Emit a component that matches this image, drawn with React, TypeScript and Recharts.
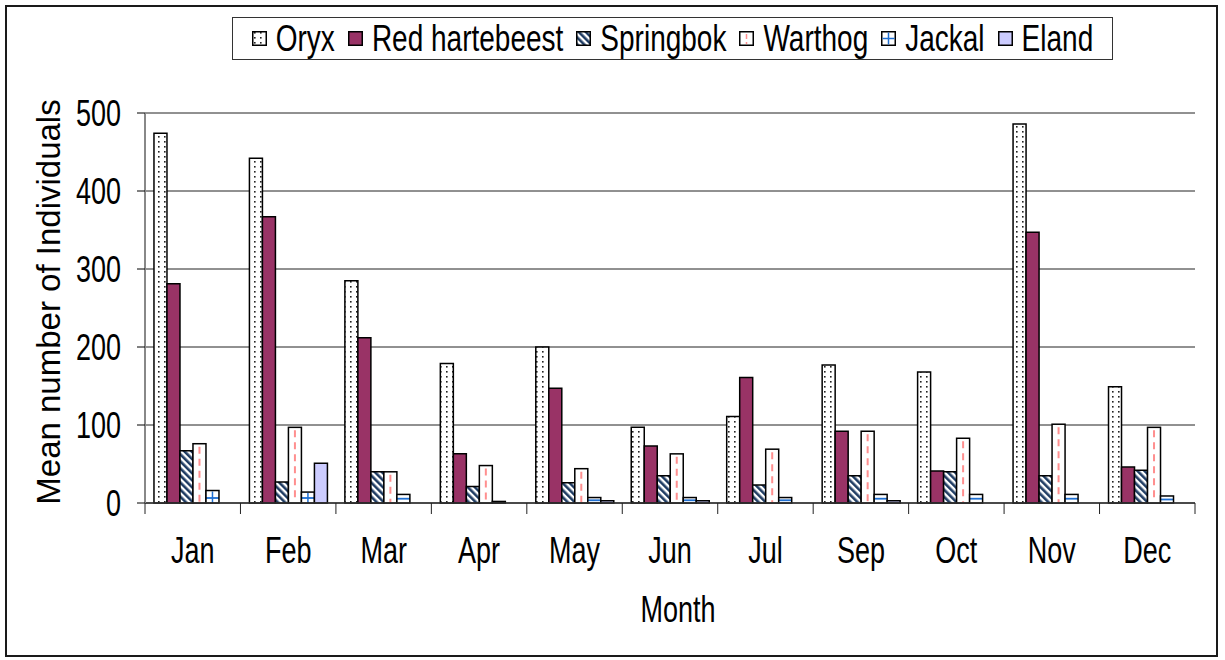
import React from 'react';
import { BarChart, Bar, XAxis, YAxis, CartesianGrid } from 'recharts';

const months = ['Jan', 'Feb', 'Mar', 'Apr', 'May', 'Jun', 'Jul', 'Sep', 'Oct', 'Nov', 'Dec'];
const oryx = [474, 442, 285, 179, 200, 97, 111, 177, 168, 486, 149];
const redHartebeest = [281, 367, 212, 63, 147, 73, 161, 92, 41, 347, 46];
const springbok = [67, 27, 40, 21, 26, 35, 23, 35, 40, 35, 42];
const warthog = [76, 97, 40, 48, 44, 63, 69, 92, 83, 101, 97];
const jackal = [16, 14, 11, 2, 7, 7, 7, 11, 11, 11, 9];
const eland = [0, 51, 0, 0, 3, 3, 0, 3, 0, 0, 0];
const yTicks = [0, 100, 200, 300, 400, 500];

const data = months.map((month, i) => ({
  month,
  oryx: oryx[i],
  redHartebeest: redHartebeest[i],
  springbok: springbok[i],
  warthog: warthog[i],
  jackal: jackal[i],
  eland: eland[i],
}));

const FONT = '"Liberation Sans", Arial, Helvetica, sans-serif';
const STRETCH = 1.35;
const W = 1225;
const H = 660;
const PLOT_LEFT = 145;
const PLOT_RIGHT = 1195;
const PLOT_TOP = 113;
const PLOT_BOTTOM = 503;
const band = (PLOT_RIGHT - PLOT_LEFT) / months.length;

const WarthogShape = (props: any) => {
  const { x, y, width, height } = props;
  if (!height || height <= 0) return null;
  const cx = x + width / 2;
  return (
    <g>
      <rect x={x} y={y} width={width} height={height} fill="#fff" stroke="#000" strokeWidth={1.5} />
      <line x1={cx} x2={cx} y1={y + 3} y2={y + height - 1} stroke="#ff8f8f" strokeWidth={2} strokeDasharray="7 5" />
    </g>
  );
};

const JackalShape = (props: any) => {
  const { x, y, width, height } = props;
  if (!height || height <= 0) return null;
  const cx = x + width / 2;
  const hy = height > 9 ? y + height - 5 : y + height / 2;
  return (
    <g>
      <rect x={x} y={y} width={width} height={height} fill="#fff" />
      {height > 3 && <line x1={x} x2={x + width} y1={hy} y2={hy} stroke="#1f6fd1" strokeWidth={1.8} />}
      {height > 9 && <line x1={cx} x2={cx} y1={y + 1} y2={y + height} stroke="#1f6fd1" strokeWidth={1.5} />}
      <rect x={x} y={y} width={width} height={height} fill="none" stroke="#000" strokeWidth={1.5} />
    </g>
  );
};

const XTick = (props: any) => {
  const { x, index, payload } = props;
  const left = x - band / 2;
  const right = x + band / 2;
  return (
    <g>
      <line x1={left} x2={left} y1={PLOT_BOTTOM} y2={PLOT_BOTTOM + 11} stroke="#222" />
      {index === months.length - 1 && (
        <line x1={right} x2={right} y1={PLOT_BOTTOM} y2={PLOT_BOTTOM + 11} stroke="#222" />
      )}
      <text
        transform={`translate(${x},563) scale(1,${STRETCH})`}
        textAnchor="middle"
        fontSize={27}
        fill="#000"
        fontFamily={FONT}
      >
        {payload.value}
      </text>
    </g>
  );
};

const YTick = (props: any) => {
  const { y, payload } = props;
  return (
    <text
      transform={`translate(121,${y + 12.5}) scale(1,${STRETCH})`}
      textAnchor="end"
      fontSize={27}
      fill="#000"
      fontFamily={FONT}
    >
      {payload.value}
    </text>
  );
};

const series = [
  { key: 'oryx', name: 'Oryx', fill: 'url(#oryxDots)' },
  { key: 'redHartebeest', name: 'Red hartebeest', fill: '#993366' },
  { key: 'springbok', name: 'Springbok', fill: 'url(#springStripes)' },
  { key: 'warthog', name: 'Warthog', fill: '#fff' },
  { key: 'jackal', name: 'Jackal', fill: '#fff' },
  { key: 'eland', name: 'Eland', fill: '#ccccff' },
];

const LegendIcon = ({ k, fill }: { k: string; fill: string }) => (
  <svg width={15} height={15} style={{ display: 'block' }}>
    <rect x={0.75} y={0.75} width={13.5} height={13.5} fill={fill} stroke="#000" strokeWidth={1.5} />
    {k === 'warthog' && (
      <line x1={7.5} x2={7.5} y1={3} y2={13} stroke="#ff8f8f" strokeWidth={1.5} strokeDasharray="5 3" />
    )}
    {k === 'jackal' && (
      <g stroke="#1f6fd1" strokeWidth={1.5}>
        <line x1={7.5} x2={7.5} y1={1.5} y2={13.5} />
        <line x1={1.5} x2={13.5} y1={7.5} y2={7.5} />
      </g>
    )}
  </svg>
);

const Patterns = () => (
  <svg width={0} height={0} style={{ position: 'absolute' }}>
    <defs>
      <pattern id="oryxDots" patternUnits="userSpaceOnUse" width={6} height={5}>
        <rect width={6} height={5} fill="#fff" />
        <rect x={2} y={1} width={1.6} height={1.6} fill="#222" />
      </pattern>
      <pattern id="springStripes" patternUnits="userSpaceOnUse" width={5} height={5} patternTransform="rotate(-45)">
        <rect width={5} height={5} fill="#fff" />
        <rect width={2.6} height={5} fill="#1f3c63" />
      </pattern>
    </defs>
  </svg>
);

export default function App() {
  return (
    <div style={{ fontFamily: FONT }}>
      <Patterns />
      <div
        style={{
          position: 'absolute',
          left: 5,
          top: 5,
          width: 1213,
          height: 652,
          border: '2px solid #1a1a1a',
          boxSizing: 'border-box',
          background: '#fff',
        }}
      />
      <div style={{ position: 'absolute', left: 0, top: 0, width: W, height: H }}>
        <BarChart
          width={W}
          height={H}
          data={data}
          margin={{ top: PLOT_TOP, right: W - PLOT_RIGHT, bottom: 0, left: 0 }}
          barCategoryGap="9.4%"
          barGap={0}
        >
          <CartesianGrid vertical={false} stroke="#222" strokeWidth={1} />
          <XAxis
            dataKey="month"
            height={H - PLOT_BOTTOM}
            axisLine={{ stroke: '#333', strokeWidth: 1.5 }}
            tickLine={false}
            tick={<XTick />}
            interval={0}
            label={{
              content: () => (
                <text
                  transform={`translate(678,622) scale(1,${STRETCH})`}
                  textAnchor="middle"
                  fontSize={27}
                  fill="#000"
                  fontFamily={FONT}
                >
                  Month
                </text>
              ),
            }}
          />
          <YAxis
            width={PLOT_LEFT}
            domain={[0, 500]}
            ticks={yTicks}
            interval={0}
            axisLine={{ stroke: '#888', strokeWidth: 2 }}
            tickLine={{ stroke: '#000' }}
            tickSize={8}
            tick={<YTick />}
            label={{
              content: () => (
                <text
                  transform="translate(60,302) rotate(-90)"
                  textAnchor="middle"
                  fontSize={33}
                  fill="#000"
                  fontFamily={FONT}
                >
                  Mean number of Individuals
                </text>
              ),
            }}
          />
          {series.map((s) => (
            <Bar
              key={s.key}
              dataKey={s.key}
              name={s.name}
              fill={s.fill}
              stroke="#000"
              strokeWidth={1.5}
              isAnimationActive={false}
              shape={s.key === 'warthog' ? <WarthogShape /> : s.key === 'jackal' ? <JackalShape /> : undefined}
            />
          ))}
        </BarChart>
      </div>
      <div
        style={{
          position: 'absolute',
          left: 232,
          top: 17,
          width: 881,
          height: 43,
          boxSizing: 'border-box',
          border: '1.5px solid #333',
          background: '#fff',
          display: 'flex',
          alignItems: 'center',
          justifyContent: 'center',
        }}
      >
        {series.map((s, i) => (
          <div key={s.key} style={{ display: 'flex', alignItems: 'center', marginLeft: i === 0 ? 0 : 13 }}>
            <LegendIcon k={s.key} fill={s.fill} />
            <span
              style={{
                marginLeft: 9,
                fontSize: 28,
                lineHeight: '28px',
                display: 'inline-block',
                transform: `scaleY(${STRETCH})`,
                color: '#000',
              }}
            >
              {s.name}
            </span>
          </div>
        ))}
      </div>
    </div>
  );
}
